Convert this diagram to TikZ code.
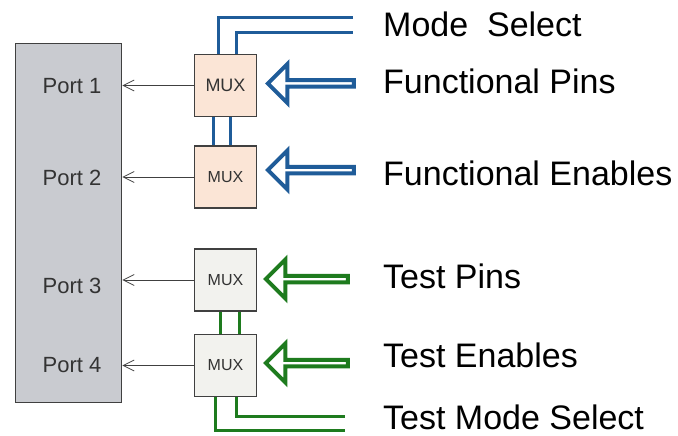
\documentclass[tikz,border=0pt]{standalone}
\usepackage{fontspec}
\setmainfont{Liberation Sans}
\usetikzlibrary{arrows.meta, shapes.arrows}

\definecolor{fblue}{HTML}{1F5C99}
\definecolor{tgreen}{HTML}{1E7B1E}
\definecolor{portgray}{HTML}{C9CBD0}
\definecolor{muxpeach}{HTML}{FBE5D6}
\definecolor{muxgray}{HTML}{F2F2EE}
\definecolor{edgegray}{HTML}{404040}

\tikzset{
  muxbox/.style={rectangle, draw=edgegray, line width=1.3pt, minimum size=62pt,
                 inner sep=0pt, text=black!80, font=\fontsize{16}{16}\selectfont},
  bigarrow/.style={single arrow, shape border rotate=180, line width=4pt, fill=white,
                   inner sep=0pt, minimum width=39pt, minimum height=86pt,
                   single arrow head extend=10pt, anchor=tip},
  bus/.style={line width=3pt},
  portarrow/.style={draw=edgegray, line width=0.8pt, -{Straight Barb[length=11pt,width=11pt]}},
  portlabel/.style={anchor=base, text=black!80, font=\fontsize{22}{22}\selectfont},
  siglabel/.style={anchor=base west, inner sep=0pt, font=\fontsize{34}{34}\selectfont}
}

\begin{document}
\begin{tikzpicture}[x=1pt, y=-1pt]
\useasboundingbox (0,0) rectangle (678,436);

% port block
\node (ports) at (15,43) [anchor=north west, draw=edgegray, line width=1.3pt, fill=portgray,
      minimum width=106pt, minimum height=359pt] {};
\node (port1) at (72,93)  [portlabel] {Port 1};
\node (port2) at (72,185) [portlabel] {Port 2};
\node (port3) at (72,293) [portlabel] {Port 3};
\node (port4) at (72,372) [portlabel] {Port 4};

% multiplexers
\node (mux1) at (225.5,85.5) [muxbox, fill=muxpeach, font=\fontsize{18}{18}\selectfont] {MUX};
\node (mux2) at (225.5,177)  [muxbox, fill=muxpeach] {MUX};
\node (mux3) at (225.5,280)  [muxbox, fill=muxgray] {MUX};
\node (mux4) at (225.5,365.5) [muxbox, fill=muxgray] {MUX};

\foreach \m in {1,...,4}
    \draw [portarrow] (mux\m.west) -- (mux\m.west -| ports.east);

% select buses
\coordinate (msel1) at (353,18);
\coordinate (msel2) at (353,33);
\coordinate (tsel1) at (345,430);
\coordinate (tsel2) at (345,416);

\begin{scope}[bus, draw=fblue]
    \draw ([xshift=-7.5pt]mux1.north) |- (msel1);
    \draw ([xshift=10.5pt]mux1.north) |- (msel2);
    \draw ([xshift=-12.5pt]mux1.south) -- ([xshift=-12.5pt]mux2.north);
    \draw ([xshift=4.5pt]mux1.south) -- ([xshift=4.5pt]mux2.north);
\end{scope}

\begin{scope}[bus, draw=tgreen]
    \draw ([xshift=-5.5pt]mux3.south) -- ([xshift=-5.5pt]mux4.north);
    \draw ([xshift=13.5pt]mux3.south) -- ([xshift=13.5pt]mux4.north);
    \draw ([xshift=-10.5pt]mux4.south) |- (tsel1);
    \draw ([xshift=10.5pt]mux4.south) |- (tsel2);
\end{scope}

% wide input arrows
\node (fpins) at (265,83.5)  [bigarrow, draw=fblue] {};
\node (fens)  at (265,170)   [bigarrow, draw=fblue] {};
\node (tpins) at (263,279)   [bigarrow, draw=tgreen, minimum height=82pt] {};
\node (tens)  at (263,363)   [bigarrow, draw=tgreen, minimum height=82pt] {};

% signal names
\node (lmsel)  at (383,37)  [siglabel] {Mode\ \ Select};
\node (lfpins) at (383,93)  [siglabel] {Functional Pins};
\node (lfens)  at (383,185) [siglabel] {Functional Enables};
\node (ltpins) at (383,288) [siglabel] {Test Pins};
\node (ltens)  at (383,367) [siglabel] {Test Enables};
\node (ltsel)  at (383,429) [siglabel] {Test Mode Select};
\end{tikzpicture}
\end{document}
